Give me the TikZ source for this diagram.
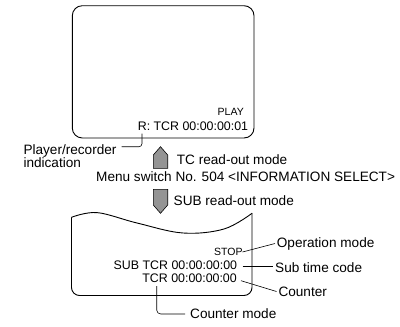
\documentclass[tikz,border=0pt]{standalone}
\usepackage{fontspec}
\setmainfont{Liberation Sans}
\begin{document}
\begin{tikzpicture}[x=1pt,y=-1pt,
  lbl/.style={inner sep=0pt,anchor=base west,font=\fontsize{13.6}{15}\selectfont},
  scr/.style={inner sep=0pt,anchor=base east,font=\fontsize{12.4}{14}\selectfont},
  scrs/.style={inner sep=0pt,anchor=base east,font=\fontsize{10.5}{12}\selectfont},
  frame/.style={line width=0.9pt},
  leader/.style={line width=0.6pt},
  modearrow/.style={draw=black,line width=0.6pt,fill=black!42,line join=miter}]
\useasboundingbox (0,0) rectangle (400,327);
% top screen
\draw[frame,rounded corners=10pt] (72.3,5.7) rectangle (254,138);
\node[scrs] (play) at (244,115.7) {PLAY};
\node[scr] (rtc) at (248.3,130) {R: TCR 00:00:00:01};
\node[lbl] (pl1) at (23.3,154.5) {Player/recorder};
\node[lbl] (pl2) at (23.3,167.7) {indication};
\coordinate (rlead) at (142,133.5);
\coordinate (plend) at (121.7,146.7);
\draw[leader,rounded corners=3pt] (rlead) |- (plend);
% mode arrows
\draw[modearrow] (153.3,168.3) -- (153.3,155) -- (160.5,146.7) -- (167.7,155) -- (167.7,168.3) -- cycle;
\node[lbl] (tcmode) at (176.7,164) {TC read-out mode};
\node[lbl] (menu) at (96,181.5) {Menu switch No. 504 <INFORMATION SELECT>};
\draw[modearrow] (153.3,189.3) -- (167.7,189.3) -- (167.7,205) -- (160.5,213.3) -- (153.3,205) -- cycle;
\node[lbl] (submode) at (173.5,205.7) {SUB read-out mode};
% bottom screen
\draw[frame,rounded corners=8pt] (71.5,217.3) -- (71.5,295.5) -- (252,295.5) -- (252,213.3);
\draw[frame,line cap=round] plot[smooth,tension=0.6] coordinates {(71.5,217.3) (97,212.6) (137,223) (183,233) (224,229) (252,213.3)};
\node[scrs] (stop) at (242.7,255.7) {STOP};
\node[scr] (subtc) at (237.3,269) {SUB TCR 00:00:00:00};
\node[scr] (ctr) at (237,282.7) {TCR 00:00:00:00};
% labels
\node[lbl] (opmode) at (276.7,247.3) {Operation mode};
\node[lbl] (subtclbl) at (275,272.5) {Sub time code};
\node[lbl] (ctrlbl) at (278.3,296.5) {Counter};
\node[lbl] (ctrmode) at (190,318.3) {Counter mode};
\coordinate (a1) at (242.5,252);
\coordinate (a2) at (275,243.5);
\coordinate (b1) at (242.5,266);
\coordinate (b2) at (272.5,266);
\coordinate (c1) at (241,280.7);
\coordinate (c2) at (276.5,291.5);
\coordinate (d1) at (156.7,286);
\coordinate (d2) at (185,314);
\draw[leader] (a1) -- (a2);
\draw[leader] (b1) -- (b2);
\draw[leader] (c1) -- (c2);
\draw[leader,rounded corners=4pt] (d1) |- (d2);
\end{tikzpicture}
\end{document}
